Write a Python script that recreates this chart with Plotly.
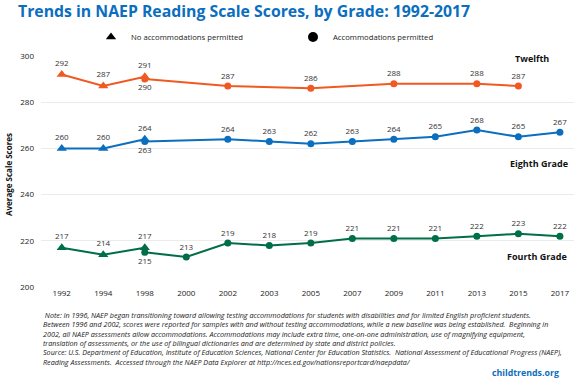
import plotly.graph_objects as go

years = ["1992", "1994", "1998", "2000", "2002", "2003", "2005", "2007", "2009", "2011", "2013", "2015", "2017"]

# No accommodations permitted (triangles)
no_acc_years = ["1992", "1994", "1998"]
twelfth_no_acc = [292, 287, 291]
eighth_no_acc = [260, 260, 264]
fourth_no_acc = [217, 214, 217]

# Accommodations permitted (circles)
twelfth_acc = [None, None, 290, None, 287, None, 286, None, 288, None, 288, 287, None]
eighth_acc = [None, None, 263, None, 264, 263, 262, 263, 264, 265, 268, 265, 267]
fourth_acc = [None, None, 215, 213, 219, 218, 219, 221, 221, 221, 222, 223, 222]

y_ticks = [200, 220, 240, 260, 280, 300]

ORANGE = "#F05A22"
BLUE = "#0B6EBE"
GREEN = "#006E46"
LABEL = "#333333"
FONT = "Open Sans"

W, H = 574, 382
ML, MR, MT, MB = 41, 0, 56, 95
PW, PH = W - ML - MR, H - MT - MB


def px(x):
    return (x - ML) / PW


def py(y):
    return (H - MB - y) / PH


fig = go.Figure()


def pos_list(vals, below_idx):
    return ["bottom center" if i in below_idx else "top center" for i in range(len(vals))]


def add_series(xs, ys, color, symbol, size, below_idx=()):
    fig.add_trace(go.Scatter(
        x=xs, y=ys, mode="lines+markers+text",
        line=dict(color=color, width=2),
        marker=dict(color=color, size=size, symbol=symbol),
        text=[str(v) if v is not None else "" for v in ys],
        textposition=pos_list(ys, below_idx),
        textfont=dict(family=FONT, size=8, color=LABEL),
        connectgaps=True, showlegend=False, cliponaxis=False,
    ))


add_series(years, twelfth_acc, ORANGE, "circle", 7, below_idx=(2,))
add_series(no_acc_years, twelfth_no_acc, ORANGE, "triangle-up", 9)
add_series(years, eighth_acc, BLUE, "circle", 7, below_idx=(2,))
add_series(no_acc_years, eighth_no_acc, BLUE, "triangle-up", 9)
add_series(years, fourth_acc, GREEN, "circle", 7, below_idx=(2,))
add_series(no_acc_years, fourth_no_acc, GREEN, "triangle-up", 9)

# legend entries
fig.add_trace(go.Scatter(x=[None], y=[None], mode="markers", name="No accommodations permitted",
                         marker=dict(color="black", symbol="triangle-up", size=9)))
fig.add_trace(go.Scatter(x=[None], y=[None], mode="markers", name="Accommodations permitted",
                         marker=dict(color="black", symbol="circle", size=10)))

note_lines = [
    " Note: In 1996, NAEP began transitioning toward allowing testing accommodations for students with disabilities and for limited English proficient students.",
    "Between 1996 and 2002, scores were reported for samples with and without testing accommodations, while a new baseline was being established.  Beginning in",
    "2002, all NAEP assessments allow accommodations. Accommodations may include extra time, one-on-one administration, use of magnifying equipment,",
    "translation of assessments, or the use of bilingual dictionaries and are determined by state and district policies.",
    "Source: U.S. Department of Education, Institute of Education Sciences, National Center for Education Statistics.  National Assessment of Educational Progress (NAEP),",
    "Reading Assessments.  Accessed through the NAEP Data Explorer at http://nces.ed.gov/nationsreportcard/naepdata/",
]


def ann(text, x, y, xanchor="left", size=9, color="#111111", **kw):
    return dict(text=text, x=px(x), y=py(y), xref="paper", yref="paper",
                xanchor=xanchor, yanchor="middle", showarrow=False,
                font=dict(family=FONT, size=size, color=color), **kw)


annotations = [
    ann("<b>Trends in NAEP Reading Scale Scores, by Grade: 1992-2017</b>", 16, 11, size=15.8, color=BLUE),
    ann("<b>Average Scale Scores</b>", 8, 175, xanchor="center", size=8, textangle=-90),
    ann("<b>Twelfth</b>", 551, 58, xanchor="right", size=9),
    ann("<b>Eighth Grade</b>", 570, 163, xanchor="right", size=9),
    ann("<b>Fourth Grade</b>", 569, 256, xanchor="right", size=9),
    ann("<b>childtrends.org</b>", 561, 373, xanchor="right", size=8.8, color=BLUE),
]
for i, line in enumerate(note_lines):
    annotations.append(ann("<i>" + line + "</i>", 41, 315 + 9.3 * i, size=7.2, color="#222222"))

fig.update_layout(
    width=W, height=H,
    margin=dict(l=ML, r=MR, t=MT, b=MB, autoexpand=False),
    plot_bgcolor="white", paper_bgcolor="white",
    font=dict(family=FONT, color="#222222"),
    annotations=annotations,
    showlegend=True,
    legend=dict(orientation="h", x=91 / W, y=1 - 37 / H, xref="container", yref="container",
                xanchor="left", yanchor="middle", entrywidth=157, entrywidthmode="pixels",
                font=dict(family=FONT, size=7.7, color="#222222"), bgcolor="rgba(0,0,0,0)",
                itemwidth=30, tracegroupgap=0),
    xaxis=dict(type="category", categoryorder="array", categoryarray=years, automargin=False,
               range=[-0.5, 12.34], showgrid=False, zeroline=False, showline=False,
               tickfont=dict(family=FONT, size=8, color="#222222"), ticks=""),
    yaxis=dict(range=[200, 300], tickvals=y_ticks, showgrid=True, gridcolor="#ebebeb", gridwidth=1,
               zeroline=False, showline=False, ticks="", ticklabelstandoff=6, automargin=False,
               tickfont=dict(family=FONT, size=8, color="#222222")),
)

fig.write_html("out.html", config={"displayModeBar": False},
               post_script="document.body.style.margin='0';")
